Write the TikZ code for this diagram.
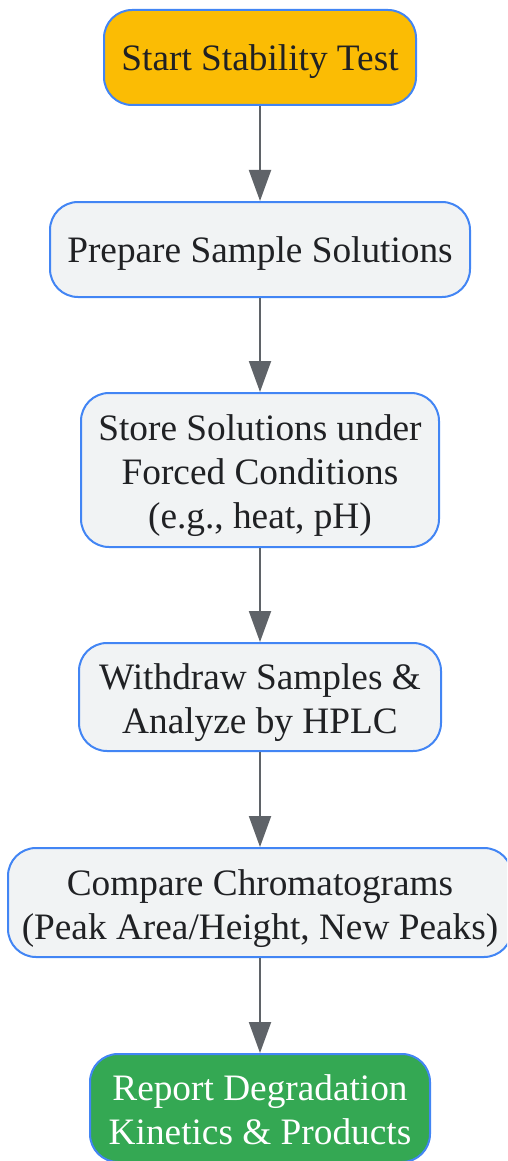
\documentclass[tikz,border=0pt]{standalone}
\usepackage{fontspec}
\setmainfont{Liberation Serif}
\usetikzlibrary{arrows.meta}
\definecolor{bordblue}{HTML}{4285F4}
\definecolor{boxgray}{HTML}{F1F3F4}
\definecolor{startorange}{HTML}{FBBC04}
\definecolor{endgreen}{HTML}{34A853}
\definecolor{txtdark}{HTML}{202124}
\definecolor{arrowgray}{HTML}{5F6368}
\newcommand{\htmlstrut}{\rule[-0.216em]{0pt}{1.107em}}
\newcommand{\topstrut}{\rule[-0.216em]{0pt}{\dimexpr1.107em+4pt\relax}}
\tikzset{
  flowbox/.style={draw=bordblue, line width=2pt, rounded corners=28pt, fill=boxgray,
    text=txtdark, align=center, inner sep=0pt,
    font=\fontsize{37.3pt}{44pt}\selectfont},
  startbox/.style={flowbox, fill=startorange},
  endbox/.style={flowbox, fill=endgreen, text=white},
  flowarrow/.style={draw=arrowgray, line width=2pt, -{Triangle[length=31pt,width=22pt]}}
}
\begin{document}
\begin{tikzpicture}[x=1pt,y=-1pt]
\useasboundingbox (0,0) rectangle (507,1161);
\clip (0,0) rectangle (507,1161);
\node[startbox, minimum width=312pt, minimum height=95pt] (n1) at (260,57.5) {\htmlstrut Start Stability Test\htmlstrut};
\node[flowbox, minimum width=420pt, minimum height=95pt] (n2) at (260,249.5) {\htmlstrut Prepare Sample Solutions\htmlstrut};
\node[flowbox, minimum width=358pt, minimum height=154pt] (n3) at (260,470) {\topstrut Store Solutions under\\Forced Conditions\\(e.g., heat, pH)\htmlstrut};
\node[flowbox, minimum width=362pt, minimum height=108pt] (n4) at (260,697) {\topstrut Withdraw Samples \&\\Analyze by HPLC\htmlstrut};
\node[flowbox, minimum width=504pt, minimum height=109pt] (n5) at (260,902.5) {\topstrut Compare Chromatograms\\(Peak Area/Height, New Peaks)\htmlstrut};
\node[endbox, minimum width=340pt, minimum height=108pt] (n6) at (260,1108) {\topstrut Report Degradation\\Kinetics \& Products\htmlstrut};
\draw[flowarrow] (n1.south) -- (n2.north);
\draw[flowarrow] (n2.south) -- (n3.north);
\draw[flowarrow] (n3.south) -- (n4.north);
\draw[flowarrow] (n4.south) -- (n5.north);
\draw[flowarrow] (n5.south) -- (n6.north);
\end{tikzpicture}
\end{document}
